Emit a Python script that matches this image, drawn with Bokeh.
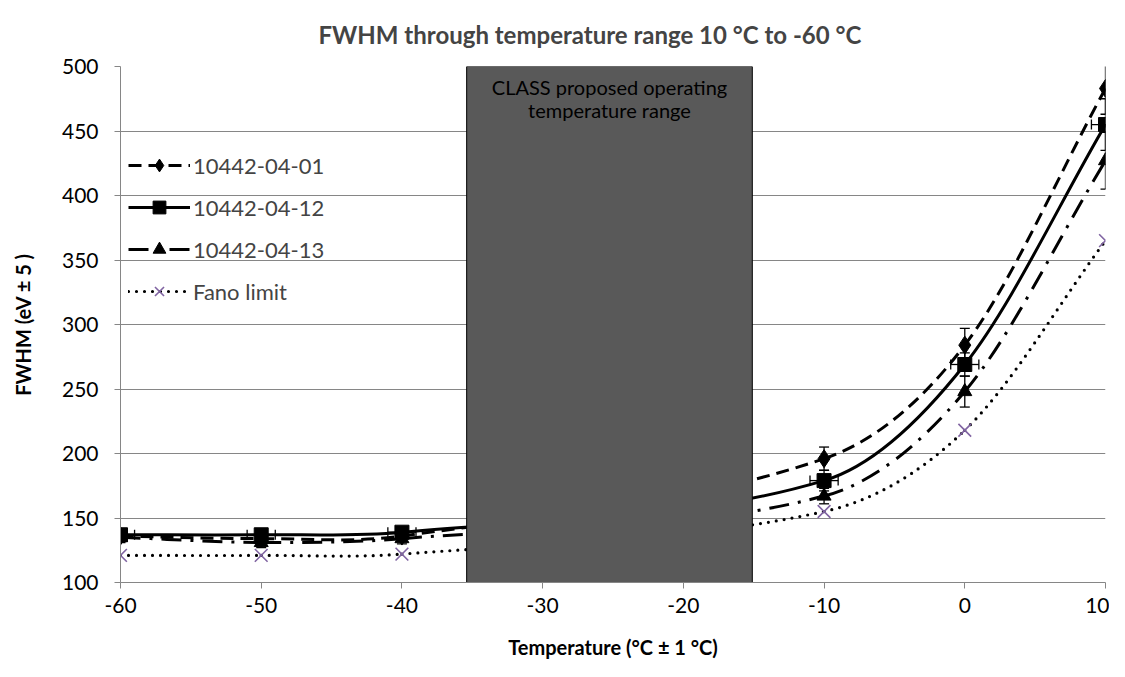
from bokeh.plotting import figure
from bokeh.models import (Legend, LegendItem, Whisker, TeeHead, ColumnDataSource,
                          FixedTicker, Label, Title)
from bokeh.embed import file_html
from bokeh.resources import INLINE

# ---------------- data ----------------
temps = [-60, -50, -40, -10, 0, 10]
s01 = [136, 134, 136, 196, 284, 483]
s12 = [137, 137, 139, 179, 269, 455]
s13 = [135, 131, 134, 167, 248, 427]
fano = [121, 121, 122, 155, 218, 365]
err01 = [4, 4, 4, 9, 13, 20]
err12 = [4, 4, 4, 8, 9, 20]
err13 = [4, 4, 4, 6, 12, 22]
xerr12 = [1, 1, 1, 1, 1, 1]
names = ["10442-04-01", "10442-04-12", "10442-04-13", "Fano limit"]
box_lo, box_hi = -35.4, -15.1
box_text = ["CLASS proposed operating", "temperature range"]
x_ticks = [-60, -50, -40, -30, -20, -10, 0, 10]
y_ticks = [100, 150, 200, 250, 300, 350, 400, 450, 500]
x_title = "Temperature (°C ± 1 °C)"
y_title = "FWHM (eV ± 5 )"
chart_title = "FWHM through temperature range 10 °C to -60 °C"

FONT = "Lato"
GRAY = "#868686"


def smooth_bezier(xs, ys):
    """Smoothed line as cubic Bezier segments (Hermite with finite-difference slopes)."""
    n = len(xs)
    m = []
    for i in range(n):
        a = max(i - 1, 0)
        b = min(i + 1, n - 1)
        m.append((ys[b] - ys[a]) / (xs[b] - xs[a]))
    out = dict(x0=[], y0=[], x1=[], y1=[], cx0=[], cy0=[], cx1=[], cy1=[])
    for i in range(n - 1):
        h = xs[i + 1] - xs[i]
        out["x0"].append(xs[i]); out["y0"].append(ys[i])
        out["x1"].append(xs[i + 1]); out["y1"].append(ys[i + 1])
        out["cx0"].append(xs[i] + h / 3.0)
        out["cy0"].append(ys[i] + m[i] * h / 3.0)
        out["cx1"].append(xs[i + 1] - h / 3.0)
        out["cy1"].append(ys[i + 1] - m[i + 1] * h / 3.0)
    return out


p = figure(width=1109, height=661, x_range=(-60, 10), y_range=(100, 500),
           output_backend="svg", toolbar_location=None,
           min_border_left=120, min_border_right=4, min_border_top=66,
           min_border_bottom=76)
p.outline_line_color = None
p.background_fill_color = "white"
p.xgrid.grid_line_color = None
p.ygrid.grid_line_color = GRAY
p.ygrid.grid_line_width = 1
p.xaxis.ticker = FixedTicker(ticks=x_ticks)
p.yaxis.ticker = FixedTicker(ticks=y_ticks)
p.xaxis.major_label_overrides = {t: str(t) for t in x_ticks}
for ax in (p.xaxis, p.yaxis):
    ax.axis_line_color = GRAY
    ax.major_tick_line_color = GRAY
    ax.major_tick_in = 0
    ax.major_tick_out = 6
    ax.minor_tick_line_color = None
    ax.major_label_text_font = FONT
    ax.major_label_text_font_size = "21px"
    ax.major_label_text_color = "black"
    ax.axis_label_text_font = FONT
    ax.axis_label_text_font_style = "bold"
    ax.axis_label_text_font_size = "20px"
    ax.axis_label_text_color = "black"
p.xaxis.axis_label = x_title
p.yaxis.axis_label = y_title
p.xaxis.major_label_standoff = 9
p.yaxis.major_label_standoff = 16
p.xaxis.axis_label_standoff = 19
p.yaxis.axis_label_standoff = 24

p.title = Title(text=chart_title, text_font=FONT, text_font_style="bold",
                text_font_size="24px", align="left", offset=198, standoff=32,
                vertical_align="top")

series = [
    (s01, err01, "diamond", 18, "13 7", 3),
    (s12, err12, "square", 14, "solid", 3),
    (s13, err13, "triangle", 14, "20 9 3 9", 3),
]
items = []
for idx, (ys, err, marker, size, dash, lw) in enumerate(series):
    bz = smooth_bezier(temps, ys)
    lr = p.bezier(source=ColumnDataSource(bz), x0="x0", y0="y0", x1="x1", y1="y1",
                  cx0="cx0", cy0="cy0", cx1="cx1", cy1="cy1",
                  line_color="black", line_width=lw, line_dash=dash)
    src = ColumnDataSource(dict(x=temps, y=ys,
                                lo=[a - b for a, b in zip(ys, err)],
                                hi=[a + b for a, b in zip(ys, err)]))
    p.add_layout(Whisker(source=src, base="x", lower="lo", upper="hi",
                         dimension="height", line_color="black", line_width=1.3,
                         upper_head=TeeHead(size=10, line_color="black", line_width=1.3),
                         lower_head=TeeHead(size=10, line_color="black", line_width=1.3)))
    if marker == "square":
        hsrc = ColumnDataSource(dict(y=ys, lo=[a - b for a, b in zip(temps, xerr12)],
                                     hi=[a + b for a, b in zip(temps, xerr12)]))
        p.add_layout(Whisker(source=hsrc, base="y", lower="lo", upper="hi",
                             dimension="width", line_color="black", line_width=1.3,
                             upper_head=TeeHead(size=10, line_color="black", line_width=1.3),
                             lower_head=TeeHead(size=10, line_color="black", line_width=1.3)))
    mr = p.scatter(temps, ys, marker=marker, size=size, fill_color="black",
                   line_color="black")
    items.append(LegendItem(label=names[idx], renderers=[lr, mr]))

bzf = smooth_bezier(temps, fano)
lf = p.bezier(source=ColumnDataSource(bzf), x0="x0", y0="y0", x1="x1", y1="y1",
              cx0="cx0", cy0="cy0", cx1="cx1", cy1="cy1",
              line_color="black", line_width=3.2, line_dash="0 8", line_cap="round")
mf = p.scatter(temps, fano, marker="x", size=18, line_color="#8064A2", line_width=1.6)
items.append(LegendItem(label=names[3], renderers=[lf, mf]))

# shaded region
p.quad(left=[box_lo], right=[box_hi], bottom=[100], top=[500],
       fill_color="#595959", line_color="black", line_width=1)
cx = (box_lo + box_hi) / 2
for i, t in enumerate(box_text):
    p.add_layout(Label(x=cx, y=500, y_offset=-20 - 23 * i, text=t, text_align="center",
                       text_baseline="middle", text_font=FONT, text_font_size="20px",
                       text_color="black"))

legend = Legend(items=items, location=(8, 275), orientation="vertical",
                glyph_width=62, glyph_height=32, spacing=10, padding=0, margin=0,
                label_text_font=FONT, label_text_font_size="22px", label_standoff=3,
                background_fill_alpha=0, border_line_color=None)
p.add_layout(legend, "center")

open("out.html", "w").write(file_html(p, INLINE))
